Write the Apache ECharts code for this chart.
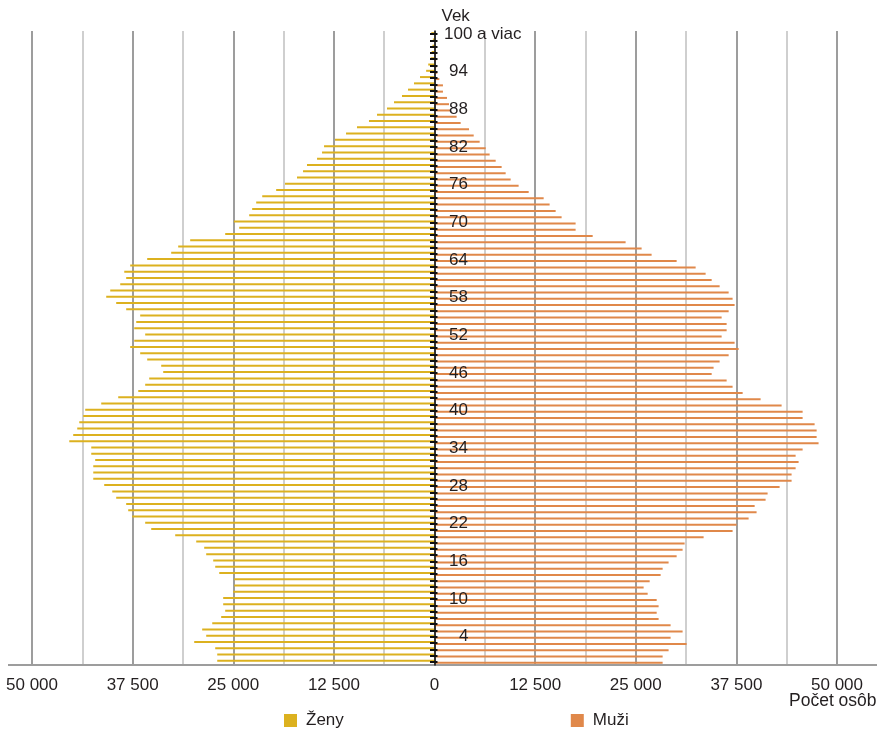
<!DOCTYPE html>
<html><head><meta charset="utf-8">
<script src="https://cdn.jsdelivr.net/npm/echarts@6/dist/echarts.min.js"></script>
<style>html,body{margin:0;padding:0;background:#fff}#c{width:885px;height:731px}</style>
</head><body><div id="c"></div>
<script>
// Age categories (index 0 = age 0, bottom of the chart)
const ages = ['0','1','2','3','4','5','6','7','8','9',
  '10','11','12','13','14','15','16','17','18','19',
  '20','21','22','23','24','25','26','27','28','29',
  '30','31','32','33','34','35','36','37','38','39',
  '40','41','42','43','44','45','46','47','48','49',
  '50','51','52','53','54','55','56','57','58','59',
  '60','61','62','63','64','65','66','67','68','69',
  '70','71','72','73','74','75','76','77','78','79',
  '80','81','82','83','84','85','86','87','88','89',
  '90','91','92','93','94','95','96','97','98','99','100 a viac'];

// Ženy (women), ages 0 .. 100+
const women = [26990,26990,27240,29850,28360,28860,27610,26500,26000,26250,
  26250,25010,24880,24880,26740,27240,27490,28360,28610,29600,
  32210,35190,35940,37550,38050,38300,39540,40030,41030,42390,
  42390,42390,42150,42640,42640,45370,44880,44380,44130,43640,
  43390,41400,39290,36800,35940,35440,33700,33950,35690,36560,
  37800,37300,35940,37300,37050,36560,38300,39540,40780,40280,
  39040,38300,38540,37800,35690,32710,31840,30350,26000,24260,
  24920,23020,22650,22150,21400,19670,18570,17080,16330,15840,
  14590,13970,13720,12360,10990,9630,8140,7140,5900,5030,
  4040,3290,2550,1800,1040,780,480,350,250,200,400];

// Muži (men), ages 0 .. 100+
const men = [28340,28340,29080,31320,29330,30820,29330,27840,27600,27840,
  27600,26480,25980,26730,28090,28340,29080,30080,30820,31070,
  33430,37030,37530,39020,40010,39770,41130,41380,42870,44360,
  44360,44860,45230,44860,45730,47710,47470,47470,47220,45730,
  45730,43120,40510,38280,37030,36290,34430,34670,35420,36540,
  37780,37280,35670,36290,36290,35670,36540,37280,37030,36540,
  35420,34430,33680,32440,30080,26970,25730,23740,19650,17530,
  17530,15790,15050,14300,13560,11700,10450,9460,8840,8340,
  7600,6850,6360,5610,4870,4290,3250,2750,2000,1800,
  1550,1050,1050,600,350,250,200,150,100,80,100];

const seriesNames = ['Ženy', 'Muži'];
const xMin = -50000, xMax = 50000, xStep = 12500;

const FONT = '"Liberation Sans", Arial, sans-serif';
const TXT = '#231f20';
const GRID_L = 32, GRID_R = 48;
const CENTER_OFFSET = -(885 - GRID_L - GRID_R) / 2; // place the age axis at x = 0

function fmtX(v) {
  const a = Math.abs(v);
  if (a >= 1000) return Math.floor(a / 1000) + ' ' + String(a % 1000).padStart(3, '0');
  return String(a);
}

const chart = echarts.init(document.getElementById('c'), null, {renderer: 'canvas'});
chart.setOption({
  animation: false,
  textStyle: {fontFamily: FONT},
  grid: {left: GRID_L, right: GRID_R, top: 31, bottom: 66, containLabel: false, outerBoundsMode: 'none'},
  legend: {
    data: seriesNames, left: 279, top: 707, itemWidth: 13, itemHeight: 13, itemGap: 227,
    icon: 'rect', textStyle: {fontSize: 17, color: TXT, fontFamily: FONT, padding: [0, 0, 0, 4]}
  },
  xAxis: {
    type: 'value', min: xMin, max: xMax, interval: xStep,
    name: 'Počet osôb', nameLocation: 'end', nameGap: -48, nameMoveOverlap: false,
    nameTextStyle: {fontSize: 17.5, color: TXT, align: 'left', verticalAlign: 'top', padding: [27, 0, 0, 0]},
    axisLine: {show: false, onZero: false}, axisTick: {show: false},
    axisLabel: {formatter: fmtX, fontSize: 17, color: TXT, margin: 12},
    splitLine: {show: true, lineStyle: {color: '#9d9d9d', width: 2}},
    minorTick: {show: false, splitNumber: 2},
    minorSplitLine: {show: true, lineStyle: {color: '#cfcfcf', width: 2}}
  },
  yAxis: [{
    type: 'category', data: ages, position: 'left', offset: CENTER_OFFSET, z: 5,
    name: 'Vek', nameLocation: 'end', nameGap: 6,
    nameTextStyle: {fontSize: 17, color: TXT, align: 'left', padding: [0, 0, 0, 7]},
    axisLine: {show: true, onZero: false, lineStyle: {color: '#111', width: 1.5}},
    axisTick: {show: true, alignWithLabel: true, interval: 0, inside: true, length: 3, lineStyle: {color: '#111', width: 2}},
    axisLabel: {
      inside: true, margin: 9.5, fontSize: 17, color: TXT,
      interval: function (idx) { return idx % 6 === 4; },
      formatter: function (v) {
        if (v.length === 1) return '{o|' + v + '}';
        if (v.length === 2) return '{t|' + v + '}';
        return v;
      },
      rich: {
        o: {padding: [0, 0, 0, 15], fontSize: 17, color: TXT, fontFamily: FONT},
        t: {padding: [0, 0, 0, 5], fontSize: 17, color: TXT, fontFamily: FONT}
      }
    },
    splitLine: {show: false}
  }, {
    type: 'category', data: ages, position: 'left', offset: CENTER_OFFSET, z: 5,
    axisLine: {show: false, onZero: false},
    axisTick: {show: true, alignWithLabel: true, interval: 0, inside: false, length: 4.5, lineStyle: {color: '#111', width: 2}},
    axisLabel: {show: false}, splitLine: {show: false}
  }],
  graphic: [{
    type: 'line', z: 5, silent: true,
    shape: {x1: 8, y1: 665, x2: 877, y2: 665},
    style: {stroke: '#9d9d9d', lineWidth: 2}
  }],
  series: [{
    name: seriesNames[0], type: 'bar', yAxisIndex: 0,
    data: women.map(function (v) { return -v; }),
    barWidth: 2, barGap: '0%', itemStyle: {color: '#dcb11f'}
  }, {
    name: seriesNames[1], type: 'bar', yAxisIndex: 0,
    data: men, barWidth: 2, barGap: '0%', itemStyle: {color: '#e0884a'}
  }]
});
</script></body></html>
